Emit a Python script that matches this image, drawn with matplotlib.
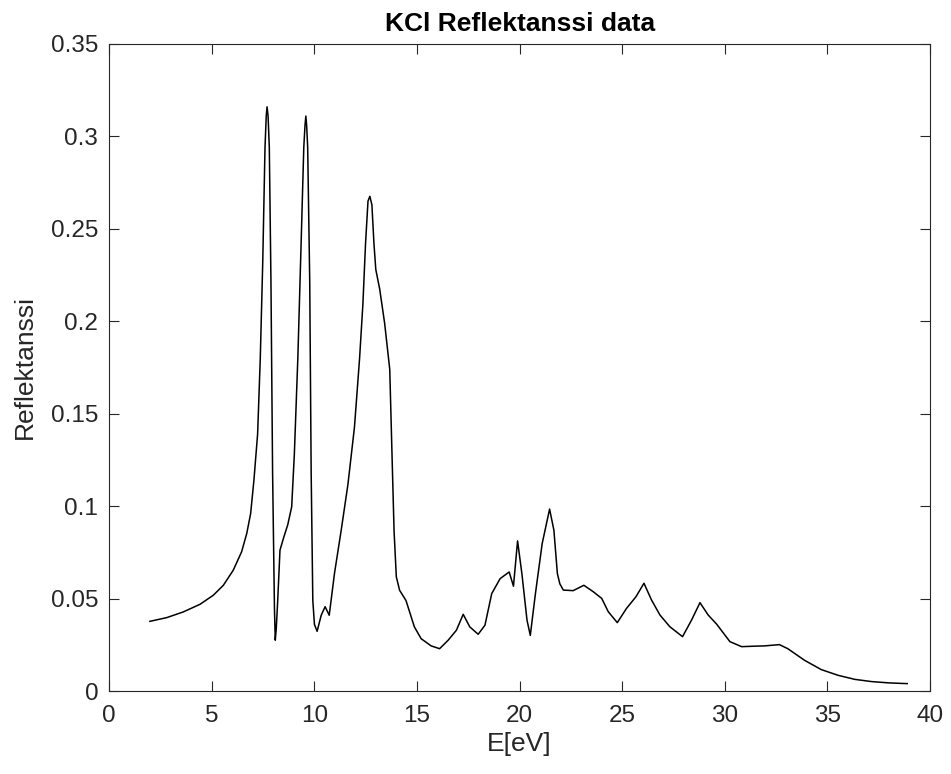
import matplotlib
matplotlib.use("Agg")
import matplotlib.pyplot as plt
import numpy as np

# Reflectance curve
energy_ev = [
    1.98, 2.80, 3.61, 4.42, 5.07, 5.56, 6.04, 6.45, 6.70, 6.89, 7.05, 7.23,
    7.36, 7.48, 7.59, 7.65, 7.69, 7.74, 7.80, 7.88, 7.96, 8.05, 8.09, 8.14,
    8.21, 8.32, 8.50, 8.70, 8.89, 9.02, 9.19, 9.35, 9.48, 9.54, 9.58, 9.62,
    9.67, 9.77, 9.84, 9.92, 10.0, 10.13, 10.33, 10.52, 10.72, 10.98, 11.30,
    11.63, 11.95, 12.20, 12.36, 12.49, 12.61, 12.70, 12.80, 12.90, 12.99,
    13.18, 13.42, 13.67, 13.78, 13.88, 13.99, 14.15, 14.46, 14.87, 15.2,
    15.69, 16.1, 16.51, 16.92, 17.25, 17.57, 17.98, 18.31, 18.64, 19.05,
    19.49, 19.70, 19.90, 20.11, 20.36, 20.52, 20.77, 21.10, 21.46, 21.67,
    21.84, 21.96, 22.13, 22.61, 23.13, 23.59, 24.00, 24.32, 24.76, 25.21,
    25.67, 26.06, 26.43, 26.84, 27.32, 27.94, 28.38, 28.79, 29.19, 29.60,
    30.25, 30.82, 31.55, 31.92, 32.66, 33.07, 33.89, 34.70, 35.52, 36.34,
    37.16, 38.0, 38.89,
]
reflectance = [
    0.0377, 0.0397, 0.0428, 0.0469, 0.0518, 0.0572, 0.0653, 0.0753, 0.0852,
    0.0960, 0.1140, 0.1390, 0.1800, 0.2320, 0.2940, 0.3110, 0.3160, 0.3110,
    0.2940, 0.2216, 0.1180, 0.0450, 0.0275, 0.0340, 0.0490, 0.0762, 0.0830,
    0.0900, 0.0996, 0.1280, 0.1800, 0.2420, 0.2940, 0.3060, 0.3110, 0.3060,
    0.2940, 0.2216, 0.1180, 0.0490, 0.0360, 0.0323, 0.0410, 0.0456, 0.0410,
    0.0639, 0.0867, 0.1116, 0.1427, 0.1800, 0.2090, 0.2420, 0.2650, 0.2676,
    0.2630, 0.2420, 0.2280, 0.2174, 0.1990, 0.1740, 0.1280, 0.0867, 0.0618,
    0.0545, 0.0490, 0.0347, 0.0283, 0.0244, 0.0229, 0.0274, 0.0329, 0.0415,
    0.0347, 0.0307, 0.0356, 0.0527, 0.0608, 0.0644, 0.0567, 0.0812, 0.0635,
    0.0383, 0.0301, 0.0527, 0.0798, 0.0984, 0.0870, 0.0635, 0.0580, 0.0546,
    0.0543, 0.0572, 0.0537, 0.0501, 0.0429, 0.0370, 0.0447, 0.0510, 0.0583,
    0.0492, 0.0411, 0.0348, 0.0294, 0.0384, 0.0478, 0.0411, 0.0362, 0.0267,
    0.0240, 0.0243, 0.0244, 0.0251, 0.0229, 0.0166, 0.0116, 0.0085, 0.0063,
    0.0051, 0.0044, 0.0040,
]

x_ticks = np.arange(0, 41, 5)
y_ticks = [0, 0.05, 0.1, 0.15, 0.2, 0.25, 0.3, 0.35]
y_tick_labels = ["0", "0.05", "0.1", "0.15", "0.2", "0.25", "0.3", "0.35"]

AXIS_GREY = "#262626"

plt.rcParams.update({
    "font.family": ["Liberation Sans", "DejaVu Sans"],
})

fig = plt.figure(figsize=(9.51, 7.74), dpi=100)
ax = fig.add_axes([0.1149, 0.1072, 0.863, 0.836])

ax.plot(energy_ev, reflectance, color="black", linewidth=1.1)

ax.set_xlim(0, 40)
ax.set_ylim(0, 0.35)
ax.set_xticks(x_ticks)
ax.set_yticks(y_ticks)
ax.set_yticklabels(y_tick_labels)

ax.tick_params(direction="in", length=7, width=0.8, colors=AXIS_GREY,
               top=True, right=True, labelsize=17.5)
ax.tick_params(axis="x", pad=10)
ax.tick_params(axis="y", pad=8)
for spine in ax.spines.values():
    spine.set_color(AXIS_GREY)
    spine.set_linewidth(0.8)

ax.set_xlabel("E[eV]", fontsize=19, color=AXIS_GREY, labelpad=4)
ax.set_ylabel("Reflektanssi", fontsize=19, color=AXIS_GREY, labelpad=10)
ax.set_title("KCl Reflektanssi data", fontsize=19, fontweight="bold", pad=9)

fig.savefig("out.png", dpi=100)
